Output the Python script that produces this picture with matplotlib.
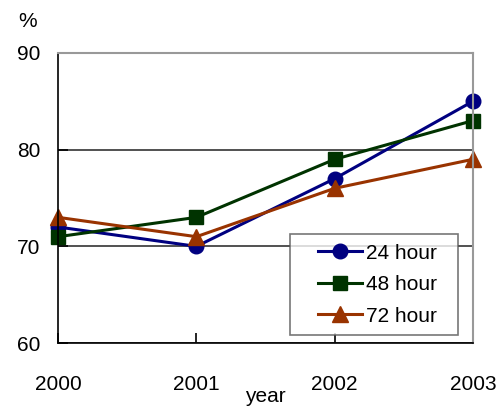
import matplotlib.pyplot as plt
from matplotlib.legend_handler import HandlerLine2D

plt.rcParams['font.family'] = ['Liberation Sans', 'DejaVu Sans']

# datos
anios = [2000, 2001, 2002, 2003]
h24 = [72, 70, 77, 85]
h48 = [71, 73, 79, 83]
h72 = [73, 71, 76, 79]

series = [
    ("24 hour", h24, "#000080", "o", 10.5),
    ("48 hour", h48, "#003300", "s", 9.5),
    ("72 hour", h72, "#993300", "^", 11),
]

fig = plt.figure(figsize=(5.01, 4.07), dpi=100)
ax = fig.add_axes([0.116, 0.157, 0.828, 0.713])

lineas = []
for nombre, valores, color, marcador, tam in series:
    l, = ax.plot(anios, valores, color=color, marker=marcador, markersize=tam,
                 linewidth=2.2, label=nombre + "  ", clip_on=False)
    lineas.append(l)

ax.set_xlim(2000, 2003)
ax.set_ylim(60, 90)
ax.set_xticks(anios)
ax.set_yticks([60, 70, 80, 90])
ax.yaxis.grid(True, color="#333333", linewidth=1.2)
ax.set_axisbelow(True)

for lado in ["top", "right"]:
    ax.spines[lado].set_color("#999999")
    ax.spines[lado].set_linewidth(1.5)
for lado in ["left", "bottom"]:
    ax.spines[lado].set_color("black")
    ax.spines[lado].set_linewidth(1.2)

ax.tick_params(axis="both", direction="in", length=7, width=1.2, labelsize=15)
ax.tick_params(axis="x", pad=23)
ax.tick_params(axis="y", pad=13)

ax.set_xlabel("year", fontsize=15, labelpad=-5)
fig.text(0.056, 0.948, "%", fontsize=15, ha="center", va="center")

# xpad deja hueco a la izquierda de la muestra
manejador = {l: HandlerLine2D(xpad=0.9) for l in lineas}
leg = ax.legend(handler_map=manejador, loc="lower right",
                bbox_to_anchor=(0.964, 0.028), borderaxespad=0, fontsize=15,
                frameon=True, fancybox=False, edgecolor="#555555",
                handlelength=3.0, borderpad=0.45, labelspacing=0.6,
                handletextpad=0.2)
leg.get_frame().set_linewidth(1.2)

fig.savefig("out.png", dpi=100)
